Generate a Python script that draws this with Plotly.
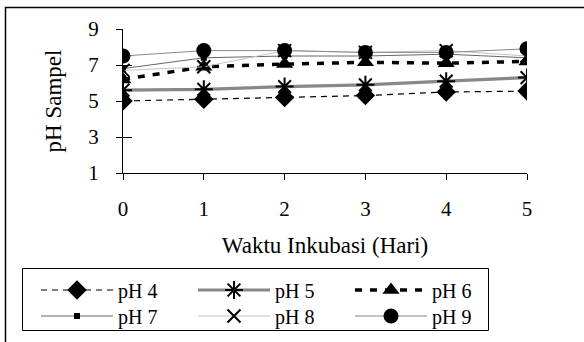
import plotly.graph_objects as go

days = [0, 1, 2, 3, 4, 5]
x_ticks = ["0", "1", "2", "3", "4", "5"]
y_ticks = [1, 3, 5, 7, 9]

ph4 = [5.0, 5.1, 5.2, 5.3, 5.5, 5.55]
ph5 = [5.6, 5.65, 5.8, 5.9, 6.1, 6.3]
ph6 = [6.2, 6.9, 7.05, 7.15, 7.1, 7.2]
ph7 = [6.8, 7.4, 7.5, 7.5, 7.6, 7.4]
ph8 = [6.7, 6.9, 7.8, 7.7, 7.8, 7.5]
ph9 = [7.5, 7.8, 7.8, 7.7, 7.7, 7.9]

FONT = "Liberation Serif, Times New Roman, serif"

series = [
    ("pH 4", ph4, dict(color="black", width=1.2, dash="6px,5px"),
     dict(symbol="diamond", size=15, color="black"), "legend"),
    ("pH 5", ph5, dict(color="#888888", width=3.2),
     dict(symbol="asterisk-open", size=15, color="black", line=dict(color="black", width=2)), "legend"),
    ("pH 6", ph6, dict(color="black", width=3.5, dash="7px,8px"),
     dict(symbol="triangle-up", size=15, color="black"), "legend"),
    ("pH 7", ph7, dict(color="#666666", width=1),
     dict(symbol="square", size=6, color="black"), "legend2"),
    ("pH 8", ph8, dict(color="#c4c4c4", width=1),
     dict(symbol="x-thin-open", size=13, color="black", line=dict(color="black", width=2)), "legend2"),
    ("pH 9", ph9, dict(color="#888888", width=1),
     dict(symbol="circle", size=15, color="black"), "legend2"),
]

fig = go.Figure()
for name, vals, line, marker, lg in series:
    fig.add_trace(go.Scatter(x=days, y=vals, name=name, mode="lines+markers",
                             line=line, marker=marker, legend=lg))

L, R, T, B = 123, 57, 29, 169
W, H = 584, 342
pw, ph = W - L - R, H - T - B

def px_x(p):
    return (p - L) / pw

def px_y(p):
    return (T + ph - p) / ph

leg_common = dict(
    orientation="h", xanchor="left", yanchor="middle",
    borderwidth=0, bgcolor="rgba(0,0,0,0)",
    itemwidth=72, entrywidth=70, entrywidthmode="pixels",
    font=dict(family=FONT, size=20), tracegroupgap=0,
)

fig.update_layout(
    width=W, height=H,
    margin=dict(l=L, r=R, t=T, b=B, autoexpand=False),
    paper_bgcolor="white", plot_bgcolor="white",
    font=dict(family=FONT, color="black", size=21),
    showlegend=True,
    legend=dict(leg_common, x=px_x(36), y=px_y(290)),
    legend2=dict(leg_common, x=px_x(36), y=px_y(316)),
    xaxis=dict(
        range=[0, 5], tickmode="array", tickvals=days, ticktext=x_ticks,
        showline=True, linecolor="black", linewidth=1,
        ticks="outside", ticklen=6, tickcolor="black",
        showgrid=False, zeroline=False, ticklabelstandoff=11,
        title=dict(text="Waktu Inkubasi (Hari)", standoff=16, font=dict(size=23)),
        tickfont=dict(size=21),
    ),
    yaxis=dict(
        range=[1, 9], tickmode="array", tickvals=y_ticks,
        showline=True, linecolor="black", linewidth=1,
        ticks="outside", ticklen=6, tickcolor="black",
        showgrid=False, zeroline=False, ticklabelstandoff=13,
        title=dict(text="pH Sampel", standoff=20, font=dict(size=23)),
        tickfont=dict(size=21),
    ),
    yaxis2=dict(
        range=[1, 9], tickmode="array", tickvals=y_ticks, overlaying="y",
        anchor="x", side="left", ticks="inside", ticklen=9, tickcolor="black",
        showticklabels=False, showgrid=False, zeroline=False, showline=False,
    ),
    shapes=[
        dict(type="rect", xref="paper", yref="paper",
             x0=px_x(5.5), x1=px_x(600), y0=px_y(360), y1=px_y(7.5),
             line=dict(color="black", width=1.5), layer="below"),
        dict(type="rect", xref="paper", yref="paper",
             x0=px_x(22.5), x1=px_x(488.5), y0=px_y(330.5), y1=px_y(268.5),
             line=dict(color="black", width=1), layer="below"),
    ],
)
fig.add_trace(go.Scatter(x=[0], y=[1], yaxis="y2", mode="markers",
                         marker=dict(opacity=0), showlegend=False, hoverinfo="skip"))

fig.write_html("out.html")
